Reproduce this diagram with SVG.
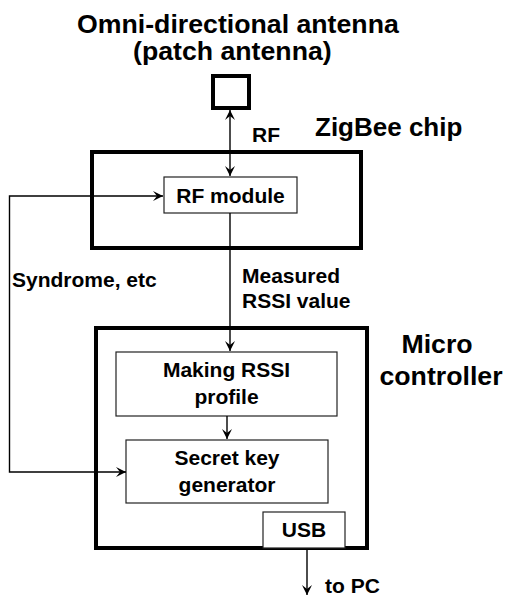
<svg xmlns="http://www.w3.org/2000/svg" width="507" height="597" viewBox="0 0 507 597">
  <style>
    text { font-family: "Liberation Sans", Arial, sans-serif; font-weight: bold; fill: #000; }
    .big { font-size: 26.7px; }
    .lbl { font-size: 21px; }
    .thick { fill: none; stroke: #000; stroke-width: 4; }
    .thin { fill: #fff; stroke: #222; stroke-width: 1.2; }
    .wire { fill: none; stroke: #000; stroke-width: 1.4; }
  </style>
  <defs>
    <marker id="arr" viewBox="-11 -6 12 12" refX="0" refY="0" markerWidth="12" markerHeight="12" markerUnits="userSpaceOnUse" orient="auto-start-reverse">
      <path d="M0,0 L-10,-5 L-6,0 L-10,5 Z" fill="#000"/>
    </marker>
  </defs>
  <rect width="507" height="597" fill="#fff"/>

  <!-- titles -->
  <text class="big" x="77" y="33">Omni-directional antenna</text>
  <text class="big" x="133" y="60">(patch antenna)</text>
  <text class="big" x="315" y="136" style="font-size:26px">ZigBee chip</text>
  <text class="big" x="437" y="353" text-anchor="middle">Micro</text>
  <text class="big" x="441" y="385" text-anchor="middle">controller</text>

  <!-- antenna -->
  <g id="antenna">
    <rect class="thick" x="213" y="76" width="36" height="32"/>
  </g>

  <!-- ZigBee chip -->
  <g id="zigbee">
    <rect class="thick" x="92" y="152" width="269" height="96"/>
  </g>
  <g id="rf-module">
    <rect class="thin" x="164" y="177" width="133" height="36"/>
    <text class="lbl" x="230.5" y="203" text-anchor="middle">RF module</text>
  </g>

  <!-- micro controller -->
  <g id="micro">
    <rect class="thick" x="96" y="328" width="271" height="220"/>
  </g>
  <g id="rssi-profile">
    <rect class="thin" x="116" y="352" width="221" height="64"/>
    <text class="lbl" x="226.5" y="377" text-anchor="middle">Making RSSI</text>
    <text class="lbl" x="226.5" y="404" text-anchor="middle">profile</text>
  </g>
  <g id="key-gen">
    <rect class="thin" x="126" y="440" width="202" height="63"/>
    <text class="lbl" x="227" y="465" text-anchor="middle">Secret key</text>
    <text class="lbl" x="227" y="492" text-anchor="middle">generator</text>
  </g>
  <g id="usb">
    <rect class="thin" x="263" y="512" width="82" height="36"/>
    <text class="lbl" x="304" y="537" text-anchor="middle">USB</text>
  </g>

  <!-- connectors -->
  <g id="connectors">
    <path class="wire" d="M230,110 L230,176" marker-start="url(#arr)" marker-end="url(#arr)"/>
    <path class="wire" d="M230,213 L230,351" marker-end="url(#arr)"/>
    <path class="wire" d="M227,416 L227,439" marker-end="url(#arr)"/>
    <path class="wire" d="M126,472 L9.5,472 L9.5,196 L163,196" marker-start="url(#arr)" marker-end="url(#arr)"/>
    <path class="wire" d="M307,550 L307,595" marker-end="url(#arr)"/>
  </g>

  <!-- connector labels -->
  <text class="lbl" x="252" y="142">RF</text>
  <text class="lbl" x="242" y="283">Measured</text>
  <text class="lbl" x="242" y="308">RSSI value</text>
  <text class="lbl" x="12" y="287">Syndrome, etc</text>
  <text class="lbl" x="325" y="593">to PC</text>
</svg>
